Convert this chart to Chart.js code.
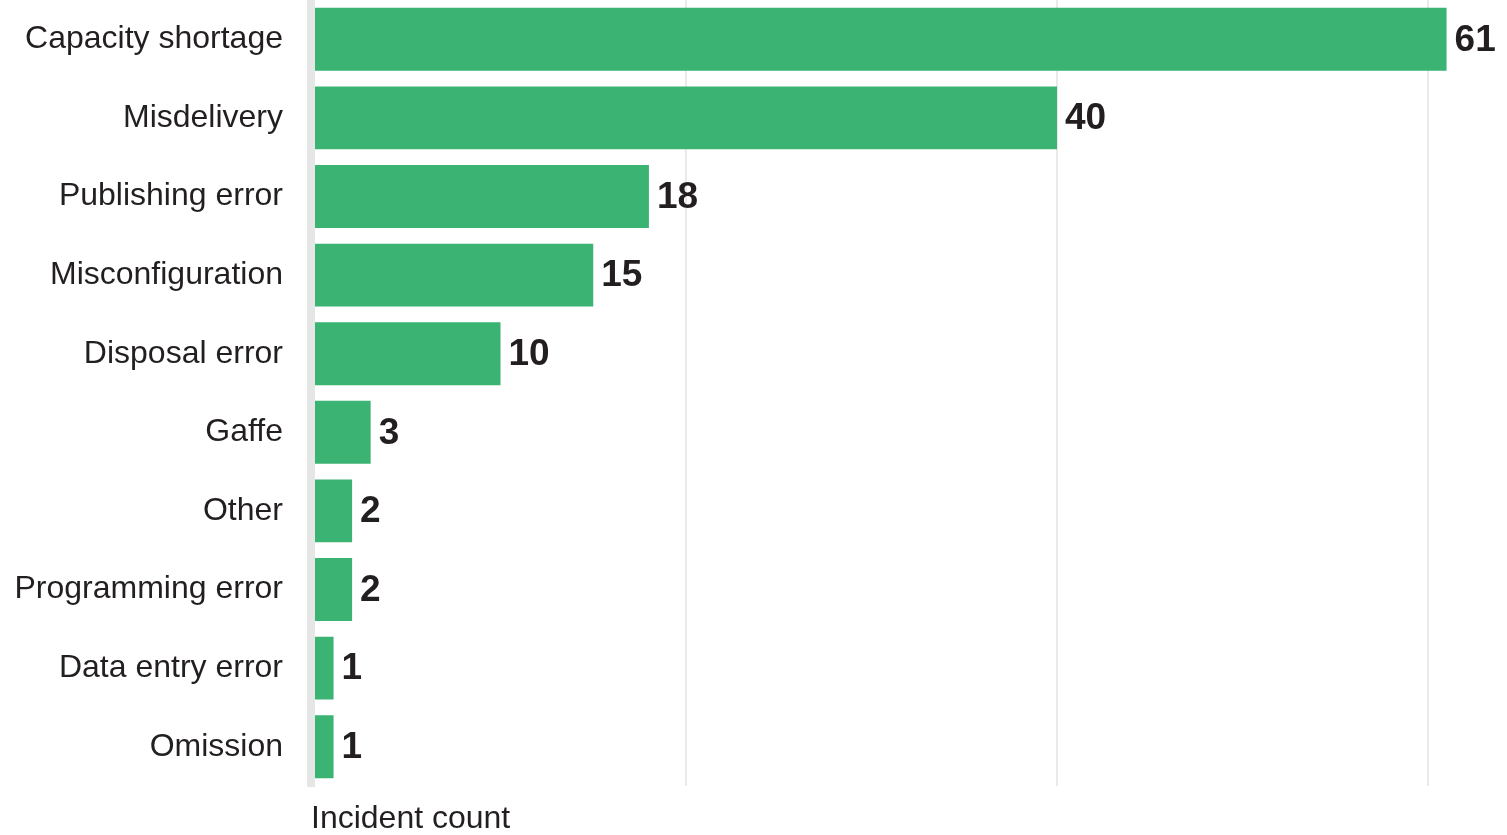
<!DOCTYPE html>
<html>
<head>
<meta charset="utf-8">
<script src="https://cdn.jsdelivr.net/npm/chart.js@4"></script>
<style>
	html, body { margin: 0; padding: 0; background: #fff; }
	#wrap { width: 1507px; height: 835px; }
</style>
</head>
<body>
<div id="wrap"><canvas id="incidents"></canvas></div>
<script>
const categories = [
	"Capacity shortage",
	"Misdelivery",
	"Publishing error",
	"Misconfiguration",
	"Disposal error",
	"Gaffe",
	"Other",
	"Programming error",
	"Data entry error",
	"Omission",
];
const incidentCounts = [61, 40, 18, 15, 10, 3, 2, 2, 1, 1];
const gridTicks = [20, 40, 60];

const fontFamily = "'Liberation Sans', Arial, Helvetica, sans-serif";

// value labels at the end of each bar
const barValues = {
	id: "barValues",
	afterDatasetsDraw(chart) {
		const ctx = chart.ctx;
		const meta = chart.getDatasetMeta(0);
		ctx.save();
		ctx.font = "bold 37px " + fontFamily;
		ctx.fillStyle = "#231f20";
		ctx.textAlign = "left";
		ctx.textBaseline = "middle";
		meta.data.forEach((bar, i) => {
			ctx.fillText(String(incidentCounts[i]), bar.x + 8, bar.y + 1);
		});
		ctx.restore();
	},
};

const chart = new Chart(document.getElementById("incidents"), {
	type: "bar",
	data: {
		labels: categories,
		datasets: [
			{
				label: "Incident count",
				data: incidentCounts,
				backgroundColor: "#3ab373",
				borderWidth: 0,
				barPercentage: 0.8,
				categoryPercentage: 1,
			},
		],
	},
	options: {
		indexAxis: "y",
		responsive: true,
		maintainAspectRatio: false,
		animation: false,
		layout: {
			padding: { top: -2, right: 2, bottom: 0, left: 0 },
		},
		plugins: {
			legend: { display: false },
			tooltip: { enabled: false },
		},
		scales: {
			x: {
				min: -0.216,
				max: 64.15,
				afterBuildTicks: (scale) => {
					scale.ticks = gridTicks.map((v) => ({ value: v }));
				},
				ticks: { display: false },
				grid: {
					color: "#eaeaea",
					lineWidth: 2,
					drawTicks: false,
				},
				border: { display: false },
				title: {
					display: true,
					text: "Incident count",
					align: "start",
					color: "#231f20",
					font: { family: fontFamily, size: 32, lineHeight: 1 },
					padding: { top: 17, bottom: 0 },
				},
			},
			y: {
				afterFit: (scale) => {
					scale.width = 311;
					scale.paddingTop = 0;
					scale.paddingBottom = 0;
				},
				ticks: {
					color: "#231f20",
					padding: 28,
					font: { family: fontFamily, size: 32 },
				},
				grid: { display: false, drawTicks: false },
				border: { display: true, color: "#e5e7e6", width: 8 },
			},
		},
	},
	plugins: [barValues],
});
</script>
</body>
</html>
